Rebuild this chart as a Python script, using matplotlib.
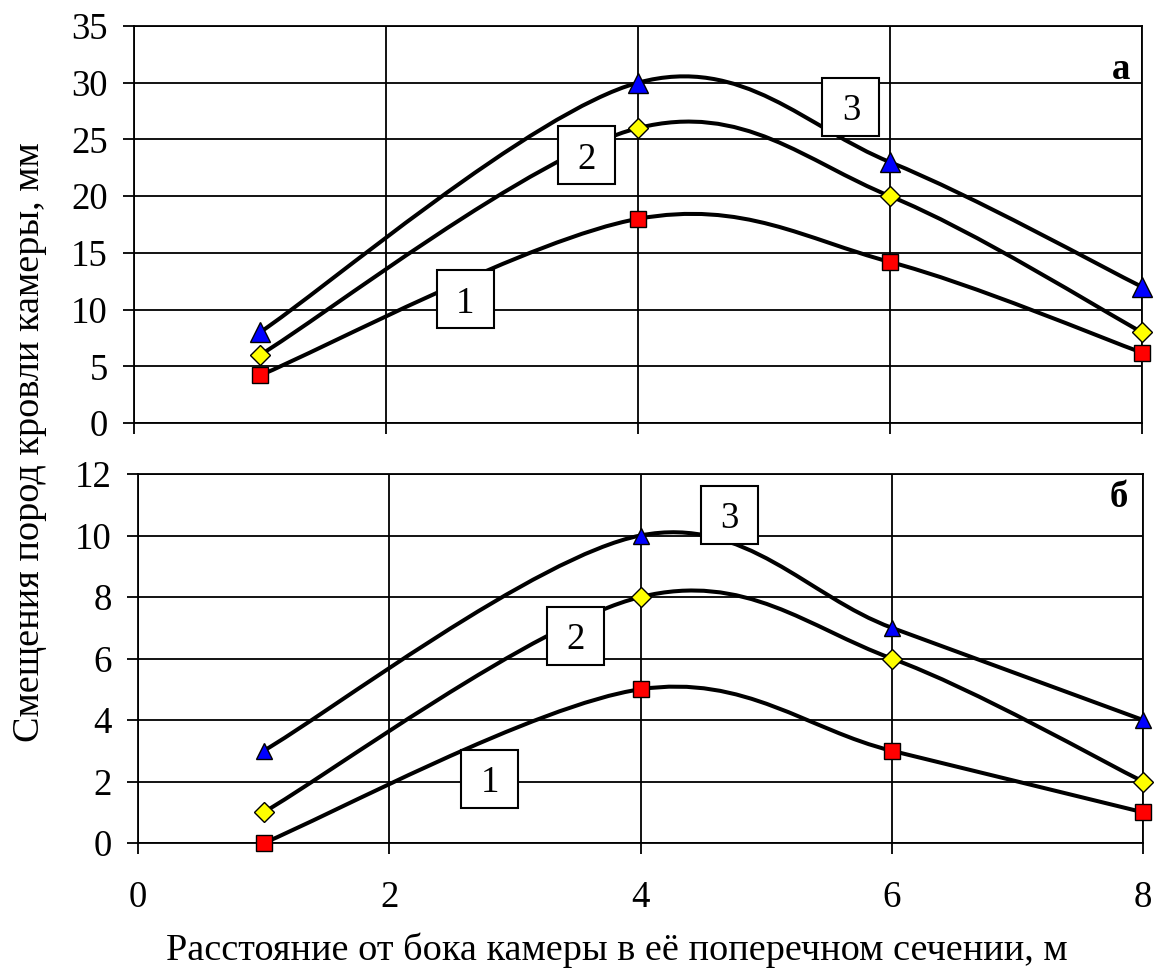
import numpy as np
import matplotlib
matplotlib.use("Agg")
import matplotlib.pyplot as plt
from matplotlib.path import Path
from matplotlib.patches import PathPatch, Rectangle
import matplotlib.transforms as mtransforms

plt.rcParams['font.family'] = ['Liberation Serif', 'DejaVu Serif']

# Distance from the chamber side, m
x_pts = [1, 4, 6, 8]

# Panel "а": roof displacement, mm
top_s1 = [4.2, 18, 14.2, 6.2]
top_s2 = [6, 26, 20, 8]
top_s3 = [8, 30, 23, 12]

# Panel "б": roof displacement, mm
bot_s1 = [0, 5, 3, 1]
bot_s2 = [1, 8, 6, 2]
bot_s3 = [3, 10, 7, 4]

top_yticks = [0, 5, 10, 15, 20, 25, 30, 35]
bot_yticks = [0, 2, 4, 6, 8, 10, 12]
x_ticks = [0, 2, 4, 6, 8]

series_labels = ["1", "2", "3"]
top_label_pos = [(2.63, 10.9), (3.59, 23.6), (5.69, 27.9)]
bot_label_pos = [(2.80, 2.08), (3.48, 6.73), (4.71, 10.67)]

ylabel = "Смещения пород кровли камеры, мм"
xlabel = "Расстояние от бока камеры в её поперечном сечении, м"

FS_TICK = 26.5
FS_LABEL = 27.5


def smooth_path(xs, ys):
    """Smoothed line through the points as cubic Bezier segments."""
    p = np.column_stack([xs, ys]).astype(float)
    n = len(p)
    verts = [p[0]]
    codes = [Path.MOVETO]
    for i in range(n - 1):
        prev = p[i - 1] if i > 0 else p[i]
        nxt = p[i + 2] if i + 2 < n else p[i + 1]
        c1 = p[i] + (p[i + 1] - prev) / 6.0
        c2 = p[i + 1] - (nxt - p[i]) / 6.0
        verts += [c1, c2, p[i + 1]]
        codes += [Path.CURVE4] * 3
    return Path(verts, codes)


def draw_panel(ax, s1, s2, s3, ymax, yticks, label_pos, letter, letter_xy,
               tri_ms):
    ax.set_xlim(0, 8)
    ax.set_ylim(0, ymax)
    ax.set_xticks(x_ticks)
    ax.set_yticks(yticks)
    ax.grid(True, color='black', linewidth=1.3)
    ax.set_axisbelow(True)
    for sp in ax.spines.values():
        sp.set_linewidth(1.3)
    ax.tick_params(axis='both', direction='out', length=8, width=1.3,
                   labelsize=FS_TICK)
    ax.tick_params(axis='y', pad=11)

    for ys in (s1, s2, s3):
        ax.add_patch(PathPatch(smooth_path(x_pts, ys), fill=False,
                               edgecolor='black', linewidth=2.9, zorder=3,
                               capstyle='round', joinstyle='round'))

    ax.plot(x_pts, s1, linestyle='none', marker='s', markersize=11.5,
            markerfacecolor='#ff0000', markeredgecolor='black',
            markeredgewidth=1.0, zorder=5, clip_on=False)
    ax.plot(x_pts, s2, linestyle='none', marker='D', markersize=10,
            markerfacecolor='#ffff00', markeredgecolor='black',
            markeredgewidth=1.0, zorder=5, clip_on=False)
    ax.plot(x_pts, s3, linestyle='none', marker='^', markersize=tri_ms,
            markerfacecolor='#0000ff', markeredgecolor='black',
            markeredgewidth=1.0, zorder=5, clip_on=False)

    fig = ax.figure
    for lab, (lx, ly) in zip(series_labels, label_pos):
        tr = fig.dpi_scale_trans + mtransforms.ScaledTranslation(
            lx, ly, ax.transData)
        ax.add_patch(Rectangle((-0.285, -0.29), 0.57, 0.58, transform=tr,
                               facecolor='white', edgecolor='black',
                               linewidth=1.5, zorder=6))
        ax.text(lx, ly, lab, fontsize=FS_TICK, ha='center',
                va='center_baseline', zorder=7)

    ax.text(letter_xy[0], letter_xy[1], letter, transform=ax.transAxes,
            fontsize=FS_TICK, fontweight='bold', ha='right', va='center',
            zorder=7)


fig = plt.figure(figsize=(11.54, 9.77), dpi=100)
W, H = 1154.0, 977.0
ax_top = fig.add_axes([134 / W, 1 - 423 / H, 1008 / W, 397 / H])
ax_bot = fig.add_axes([138 / W, 1 - 843 / H, 1005 / W, 369 / H])

draw_panel(ax_top, top_s1, top_s2, top_s3, 35, top_yticks, top_label_pos,
           "а", (0.988, 0.89), 15)
draw_panel(ax_bot, bot_s1, bot_s2, bot_s3, 12, bot_yticks, bot_label_pos,
           "б", (0.985, 0.935), 11)

ax_top.tick_params(axis='x', labelbottom=False)
ax_bot.tick_params(axis='x', pad=19)

fig.text(0.026, 1 - 442 / H, ylabel, rotation=90, fontsize=FS_LABEL,
         ha='center', va='center')
fig.text(617 / W, 1 - 950 / H, xlabel, fontsize=FS_LABEL, ha='center',
         va='center')

fig.savefig("out.png", dpi=100)
